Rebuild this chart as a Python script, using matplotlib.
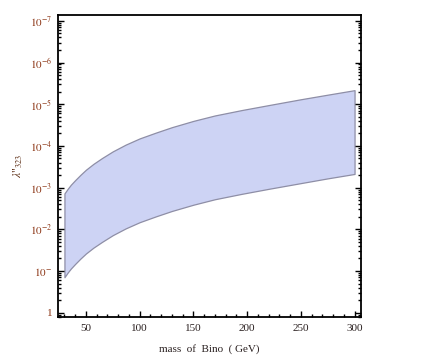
import matplotlib
matplotlib.use("Agg")
import matplotlib.pyplot as plt
from matplotlib.ticker import FixedLocator, FixedFormatter, LogLocator, MultipleLocator, NullFormatter
import numpy as np

# mass of Bino (GeV)
mass = [30, 33, 36, 40, 45, 50, 57, 65, 75, 87, 100, 115, 130, 150, 170,
        195, 220, 250, 275, 300]
# lambda''_323 bounds
lam_small = [1.38e-3, 1.07e-3, 8.5e-4, 6.6e-4, 4.9e-4, 3.72e-4, 2.69e-4,
             1.95e-4, 1.35e-4, 9.3e-5, 6.6e-5, 4.8e-5, 3.55e-5, 2.51e-5,
             1.86e-5, 1.38e-5, 1.05e-5, 7.6e-6, 5.9e-6, 4.6e-6]
lam_large = [1.41e-1, 1.09e-1, 8.7e-2, 6.75e-2, 5.0e-2, 3.8e-2, 2.75e-2,
             2.0e-2, 1.38e-2, 9.5e-3, 6.75e-3, 4.9e-3, 3.63e-3, 2.57e-3,
             1.9e-3, 1.41e-3, 1.07e-3, 7.8e-4, 6.0e-4, 4.7e-4]

ytick_vals = [1, 1e-1, 1e-2, 1e-3, 1e-4, 1e-5, 1e-6, 1e-7]
ytick_labels = ["1", r"$10^{-}$", r"$10^{-2}$", r"$10^{-3}$", r"$10^{-4}$",
                r"$10^{-5}$", r"$10^{-6}$", r"$10^{-7}$"]
xtick_vals = [50, 100, 150, 200, 250, 300]

plt.rcParams['font.family'] = 'Liberation Serif'
plt.rcParams['mathtext.fontset'] = 'stix'

fig = plt.figure(figsize=(4.26, 3.57), dpi=100)
ax = fig.add_axes([58/426, 1-317/357, (361-58)/426, (317-15)/357])

inv_small = 1.0/np.array(lam_small)
inv_large = 1.0/np.array(lam_large)
ax.fill_between(mass, inv_large, inv_small, facecolor='#cdd3f4',
                edgecolor='#8e8ea6', linewidth=0.9)

ax.set_yscale('log')
ax.set_xlim(24, 306)
ax.set_ylim(10**-0.103, 10**7.14)

ax.yaxis.set_major_locator(FixedLocator([1.0/v for v in ytick_vals]))
ax.yaxis.set_major_formatter(FixedFormatter(ytick_labels))
ax.yaxis.set_minor_locator(LogLocator(base=10, subs=np.arange(2, 10), numticks=20))
ax.yaxis.set_minor_formatter(NullFormatter())

ax.xaxis.set_major_locator(FixedLocator(xtick_vals))
ax.xaxis.set_minor_locator(MultipleLocator(10))

ax.tick_params(axis='both', which='both', direction='in', width=1.0, color='black')
ax.tick_params(axis='y', which='both', left=True, right=True)
ax.tick_params(axis='x', which='both', top=False, bottom=True)
ax.tick_params(which='major', length=4.5)
ax.tick_params(which='minor', length=2.5)
ax.tick_params(axis='y', which='major', labelsize=8, labelcolor='#8b3413', pad=4)
ax.tick_params(axis='x', which='major', labelsize=8, labelcolor='#2a2020', pad=5)

for s in ax.spines.values():
    s.set_linewidth(1.3)

ax.set_xlabel("mass  of  Bino  ( GeV)", fontsize=8, color='#2a2020', labelpad=8)
ax.set_ylabel(r'$\lambda$"$_{323}$', fontsize=8.5, color='#5a2a10', labelpad=4)

fig.savefig("out.png", dpi=100)
